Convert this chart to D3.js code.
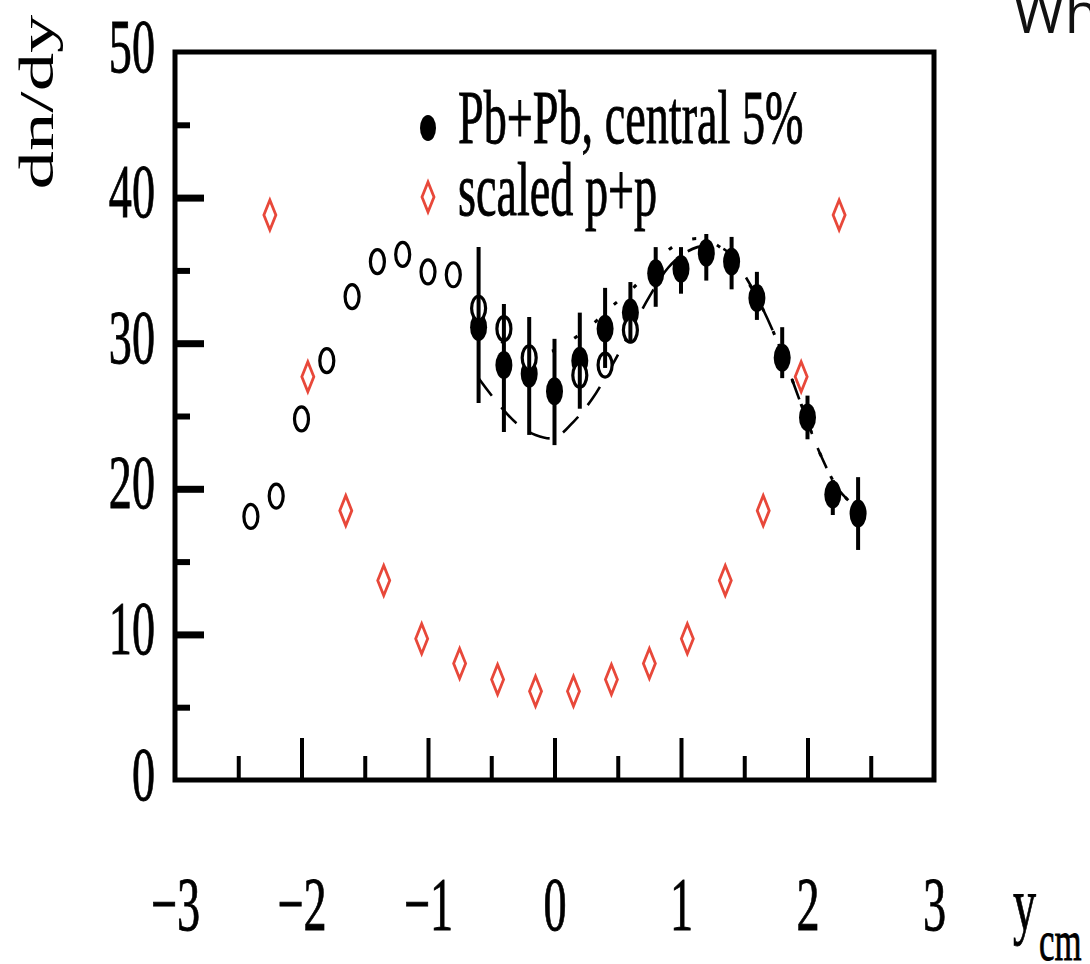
<!DOCTYPE html>
<html><head><meta charset="utf-8">
<script src="https://cdn.jsdelivr.net/npm/d3@7"></script>
<style>html,body{margin:0;padding:0;background:#fff;overflow:hidden}</style>
</head><body>
<svg id="c" width="1090" height="964"></svg>
<script>
// ---- data ----
const xDomain = [-3, 3];
const yDomain = [0, 50];
const xTickValues = [-3, -2, -1, 0, 1, 2, 3];
const xMajorInner = [-2, -1, 0, 1, 2];
const xMinorTicks = [-2.5, -1.5, -0.5, 0.5, 1.5, 2.5];
const yTickValues = [0, 10, 20, 30, 40, 50];
const yMajorInner = [10, 20, 30, 40];
const yMinorTicks = [5, 15, 25, 35, 45];

// Pb+Pb, central 5% (measured, filled)
const pbX  = [-0.6, -0.4, -0.2, 0, 0.2, 0.4, 0.6, 0.8, 1.0, 1.2, 1.4, 1.6, 1.8, 2.0, 2.2, 2.4];
const pbY  = [31.1, 28.5, 27.9, 26.7, 28.8, 31.0, 32.1, 34.8, 35.1, 36.2, 35.6, 33.1, 29.0, 24.9, 19.6, 18.3];
const pbLo = [25.9, 23.9, 23.7, 23.0, 25.5, 28.3, 30.0, 32.5, 33.4, 34.3, 33.7, 31.6, 27.6, 23.4, 18.2, 15.8];
const pbHi = [36.6, 32.7, 31.8, 30.3, 32.1, 33.8, 34.2, 36.6, 36.6, 37.5, 37.3, 34.9, 31.1, 26.4, 20.6, 20.8];
// reflected points (open circles)
const reflX = [-2.4, -2.2, -2.0, -1.8, -1.6, -1.4, -1.2, -1.0, -0.8, -0.6, -0.4, -0.2, 0.2, 0.4, 0.6];
const reflY = [18.1, 19.5, 24.8, 28.8, 33.2, 35.6, 36.1, 34.9, 34.7, 32.4, 31.0, 29.0, 27.8, 28.5, 30.9];
// scaled p+p (red diamonds)
const ppX = [-2.25, -1.95, -1.65, -1.35, -1.05, -0.75, -0.45, -0.15, 0.15, 0.45, 0.75, 1.05, 1.35, 1.65, 1.95, 2.25];
const ppY = [38.8, 27.7, 18.5, 13.7, 9.7, 8.0, 6.9, 6.1, 6.1, 6.9, 8.0, 9.7, 13.7, 18.5, 27.7, 38.8];
// model curves
const curveX   = [-0.6, -0.45, -0.3, -0.15, 0, 0.15, 0.3, 0.45, 0.6, 0.75, 0.9, 1.05, 1.2, 1.35, 1.5, 1.65, 1.8, 1.95, 2.1, 2.25, 2.4];
const dashedY  = [27.6, 25.9, 24.5, 23.7, 23.5, 24.6, 26.2, 28.4, 30.8, 33.2, 35.2, 36.3, 36.7, 36.4, 34.7, 32.3, 29.3, 25.8, 22.4, 19.9, 18.6];
const dottedY  = [31.0, 30.2, 29.8, 29.5, 29.5, 30.3, 31.3, 32.5, 33.6, 35.0, 36.4, 37.1, 37.1, 36.3, 34.6, 32.3, 29.3, 25.8, 22.4, 19.9, 18.6];

const legendLabels = ["Pb+Pb, central 5%", "scaled p+p"];
const yTitle = "dn/dy";
const xTitle = "y";
const xTitleSub = "cm";
const cornerText = "What";

// ---- drawing ----
const svg = d3.select("#c");
svg.append("rect").attr("width",1090).attr("height",964).attr("fill","#fff");
const x = d3.scaleLinear().domain(xDomain).range([175, 934]);
const y = d3.scaleLinear().domain(yDomain).range([780, 52]);
const SERIF = "'Liberation Serif','Times New Roman',serif";
const RED = "#e8483a";
const SX = 0.6;
const TSTROKE = 0.9;

// curves
const line = (ys) => d3.line().x((d,i)=>x(curveX[i])).y((d,i)=>y(ys[i])).curve(d3.curveCatmullRom)(ys);
svg.append("path").attr("d", line(dashedY)).attr("fill","none").attr("stroke","#000")
  .attr("stroke-width",2.6).attr("stroke-dasharray","22,15");
svg.append("path").attr("d", line(dottedY)).attr("fill","none").attr("stroke","#000")
  .attr("stroke-width",3).attr("stroke-dasharray","4,22");

// frame
svg.append("rect").attr("x",x(-3)).attr("y",y(50)).attr("width",x(3)-x(-3)).attr("height",y(0)-y(50))
  .attr("fill","none").attr("stroke","#000").attr("stroke-width",5);

// bottom ticks (inside)
const bt = svg.append("g").attr("transform",`translate(0,${y(0)})`)
  .call(d3.axisTop(x).tickValues(xMajorInner).tickSize(42).tickFormat(""));
bt.select(".domain").remove(); bt.selectAll("line").attr("stroke-width",4);
const bm = svg.append("g").attr("transform",`translate(0,${y(0)})`)
  .call(d3.axisTop(x).tickValues(xMinorTicks).tickSize(24).tickFormat(""));
bm.select(".domain").remove(); bm.selectAll("line").attr("stroke-width",4);

// left ticks (inside)
const lt = svg.append("g").attr("transform",`translate(${x(-3)},0)`)
  .call(d3.axisRight(y).tickValues(yMajorInner).tickSize(29).tickFormat(""));
lt.select(".domain").remove(); lt.selectAll("line").attr("stroke-width",7);
const lm = svg.append("g").attr("transform",`translate(${x(-3)},0)`)
  .call(d3.axisRight(y).tickValues(yMinorTicks).tickSize(15).tickFormat(""));
lm.select(".domain").remove(); lm.selectAll("line").attr("stroke-width",6);

// x tick labels
const xl = svg.append("g").attr("transform","translate(0,930)")
  .call(d3.axisBottom(x).tickValues(xTickValues).tickSize(0).tickFormat(d => d < 0 ? "\u2212" + Math.abs(d) : String(d)));
xl.select(".domain").remove();
xl.attr("font-family", SERIF).attr("font-size", 77);
xl.selectAll("text").attr("y",0).attr("dy",0).attr("fill","#000").attr("stroke","#000").attr("stroke-width",TSTROKE)
  .attr("transform",`scale(${SX},1)`);

// y tick labels
const yl = svg.append("g").attr("transform",`translate(${x(-3)},0)`)
  .call(d3.axisLeft(y).tickValues(yTickValues).tickSize(0));
yl.select(".domain").remove();
yl.attr("font-family", SERIF).attr("font-size", 77);
yl.selectAll("text").attr("x",0).attr("dy",0).attr("fill","#000").attr("stroke","#000").attr("stroke-width",TSTROKE)
  .attr("transform",`translate(-20,19) scale(${SX},1)`);

// y title
svg.append("text").attr("transform","translate(53,102) rotate(-90) scale(1.6,1)")
  .attr("text-anchor","middle").attr("font-family",SERIF).attr("font-size",48).attr("fill","#000").text(yTitle);

// x title
const xt = svg.append("text").attr("transform",`translate(1013,930) scale(${SX},1)`)
  .attr("font-family",SERIF).attr("font-size",77).attr("fill","#000").attr("stroke","#000").attr("stroke-width",TSTROKE);
xt.append("tspan").text(xTitle);
xt.append("tspan").attr("font-size",58).attr("dx",5).attr("dy",30).text(xTitleSub);

// filled circles
svg.append("g").selectAll("ellipse").data(pbY).join("ellipse")
  .attr("cx",(d,i)=>x(pbX[i])).attr("cy",d=>y(d)).attr("rx",8.5).attr("ry",14).attr("fill","#000");
// open circles
svg.append("g").selectAll("ellipse").data(reflY).join("ellipse")
  .attr("cx",(d,i)=>x(reflX[i])).attr("cy",d=>y(d)).attr("rx",7).attr("ry",12)
  .attr("fill","#fff").attr("stroke","#000").attr("stroke-width",3.2);
// error bars
svg.append("g").selectAll("line").data(pbY).join("line")
  .attr("x1",(d,i)=>x(pbX[i])).attr("x2",(d,i)=>x(pbX[i]))
  .attr("y1",(d,i)=>y(pbLo[i])).attr("y2",(d,i)=>y(pbHi[i]))
  .attr("stroke","#000").attr("stroke-width",4);
// diamonds
const diamond = "M0,-15L6,0L0,15L-6,0Z";
svg.append("g").selectAll("path").data(ppY).join("path")
  .attr("d",diamond).attr("transform",(d,i)=>`translate(${x(ppX[i])},${y(d)})`)
  .attr("fill","#fff").attr("stroke",RED).attr("stroke-width",2.8);

// legend
const lg = svg.append("g");
lg.append("ellipse").attr("cx",428).attr("cy",128).attr("rx",8).attr("ry",13).attr("fill","#000");
lg.append("path").attr("d",diamond).attr("transform","translate(428,197)")
  .attr("fill","#fff").attr("stroke",RED).attr("stroke-width",2.8);
lg.append("text").attr("transform",`translate(458,143) scale(${SX},1)`)
  .attr("font-family",SERIF).attr("font-size",77).attr("fill","#000").attr("stroke","#000").attr("stroke-width",TSTROKE)
  .text(legendLabels[0]);
lg.append("text").attr("transform",`translate(458,215) scale(${SX},1)`)
  .attr("font-family",SERIF).attr("font-size",77).attr("fill","#000").attr("stroke","#000").attr("stroke-width",TSTROKE)
  .text(legendLabels[1]);

// corner text (clipped by page edge, as in the reference)
svg.append("text").attr("x",1013).attr("y",33).attr("font-family","'Open Sans',sans-serif")
  .attr("font-size",56).attr("fill","#111").text(cornerText);
</script>
</body></html>
